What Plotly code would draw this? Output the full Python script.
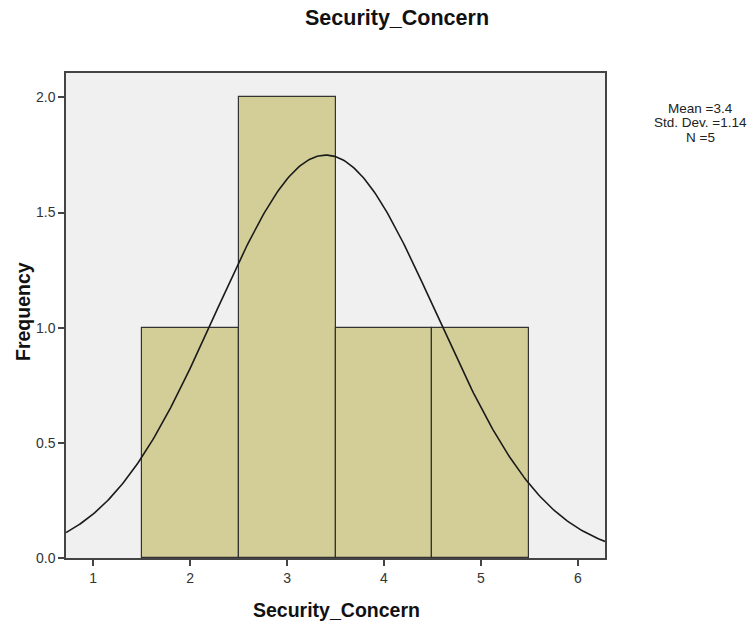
import numpy as np
import plotly.graph_objects as go

values = [2, 3, 3, 4, 5]
bin_start = 1.5
bin_end = 5.5
bin_size = 1.0
x_ticks = [1, 2, 3, 4, 5, 6]
y_ticks = [0.0, 0.5, 1.0, 1.5, 2.0]

arr = np.array(values, dtype=float)
mean = arr.mean()
sd = arr.std(ddof=1)
n = len(arr)

X0, X1 = 0.72, 6.28
Y0, Y1 = 0, 2.106
xs = np.linspace(X0, X1, 300)
ys = n * bin_size * np.exp(-0.5 * ((xs - mean) / sd) ** 2) / (sd * np.sqrt(2 * np.pi))

L, R, T, B = 66, 145, 73, 68
W, H = 750, 626
PW, PH = W - L - R, H - T - B

def px(x):
    return (x - L) / PW

def py(y):
    return 1 - (y - T) / PH

fig = go.Figure()
fig.add_trace(go.Histogram(
    x=values,
    xbins=dict(start=bin_start, end=bin_end, size=bin_size),
    marker=dict(color="#D3CE97", line=dict(color="#333333", width=1.2)),
    hoverinfo="skip",
))
fig.add_trace(go.Scatter(
    x=xs, y=ys, mode="lines",
    line=dict(color="#1a1a1a", width=1.6),
    hoverinfo="skip",
))

fig.update_layout(
    width=W, height=H,
    margin=dict(l=L, r=R, t=T, b=B, autoexpand=False),
    paper_bgcolor="white",
    plot_bgcolor="#F0F0F0",
    showlegend=False,
    bargap=0,
    font=dict(family="Liberation Sans, Arial, sans-serif", color="#222"),
)
common = dict(
    ticks="outside", ticklen=6, tickwidth=1.5, tickcolor="#444",
    showline=True, linecolor="#444", linewidth=1.5, mirror=True,
    showgrid=False, zeroline=False, automargin=False,
    tickfont=dict(size=14, color="#333"),
)
fig.update_xaxes(range=[X0, X1], tickvals=x_ticks,
                 ticktext=[str(t) for t in x_ticks], **common)
fig.update_yaxes(range=[Y0, Y1], tickvals=y_ticks,
                 ticktext=[f"{t:.1f}" for t in y_ticks], **common)

fig.add_annotation(
    text="<b>Security_Concern</b>", xref="paper", yref="paper",
    x=px(396.5), y=py(18), showarrow=False,
    font=dict(size=21.5, color="#111"), xanchor="center", yanchor="middle",
)
fig.add_annotation(
    text="<b>Security_Concern</b>", xref="paper", yref="paper",
    x=px(336), y=py(610), showarrow=False,
    font=dict(size=19.5, color="#111"), xanchor="center", yanchor="middle",
)
fig.add_annotation(
    text="<b>Frequency</b>", xref="paper", yref="paper",
    x=px(23), y=py(312), showarrow=False, textangle=-90,
    font=dict(size=19.5, color="#111"), xanchor="center", yanchor="middle",
)
stats = [f"Mean ={mean:.1f}", f"Std. Dev. ={sd:.2f}", f"N ={n}"]
for line, yc in zip(stats, [109, 123, 137]):
    fig.add_annotation(
        text=line, xref="paper", yref="paper",
        x=px(700), y=py(yc), showarrow=False,
        font=dict(size=13.5, color="#222"),
        xanchor="center", yanchor="middle",
    )
fig.write_html(
    "out.html",
    config={"displayModeBar": False},
    post_script="document.body.style.margin='0';document.body.style.padding='0';",
)
